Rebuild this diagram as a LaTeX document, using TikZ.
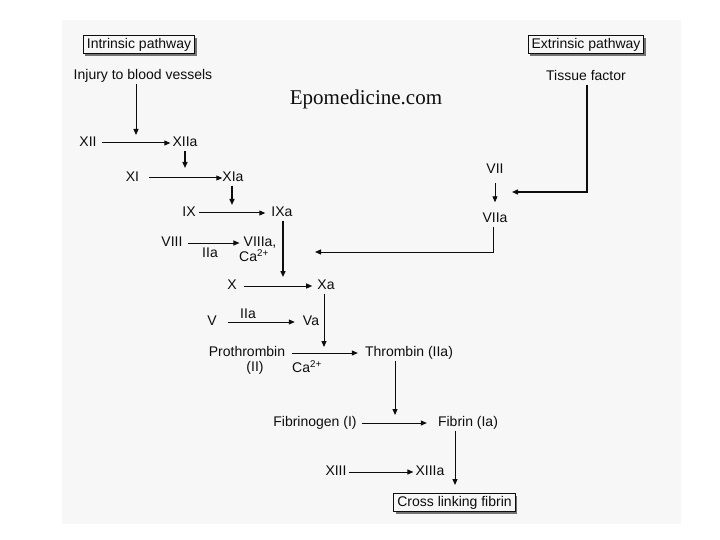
\documentclass[tikz,border=0pt]{standalone}
\usepackage{fontspec}
\setmainfont{Liberation Sans}
\newfontfamily\wmfont{Liberation Serif}
\usetikzlibrary{arrows.meta,shadows}
\definecolor{panel}{HTML}{F7F7F7}
\definecolor{ink}{HTML}{0D0D0D}
\tikzset{
  lbl/.style={font=\fontsize{14}{14}\selectfont, text=ink, text height=10pt, text depth=3pt, inner xsep=2pt, inner ysep=1pt},
  pbox/.style={lbl, draw=ink, line width=1pt, fill=panel, inner xsep=3.5pt, inner ysep=2.5pt,
    drop shadow={shadow xshift=2pt, shadow yshift=-2pt, fill=black!55, opacity=1}},
  arr/.style={draw=ink, line width=1pt, -{Triangle[length=6pt,width=5pt]}},
  varr/.style={arr, line width=1.4pt},
}
\begin{document}
\begin{tikzpicture}[x=1pt,y=-1pt]
\useasboundingbox (0,0) rectangle (720,540);
\fill[panel] (62,20) rectangle (681,524);

% boxes
\node[pbox] (intr) at (139,45) {Intrinsic pathway};
\node[pbox] (extr) at (586,45) {Extrinsic pathway};
\node[pbox] (cross) at (454.5,502.5) {Cross linking fibrin};

% watermark
\node[font=\wmfont\fontsize{21}{21}\selectfont, text=ink] (epo) at (366,99) {Epomedicine.com};

% labels
\node[lbl] (inj) at (143,76) {Injury to blood vessels};
\node[lbl] (tf) at (586,77) {Tissue factor};
\node[lbl] (xii) at (88,143) {XII};
\node[lbl] (xiia) at (185,143) {XIIa};
\node[lbl] (xi) at (132.5,178) {XI};
\node[lbl] (xia) at (233,178) {XIa};
\node[lbl] (ix) at (189,213) {IX};
\node[lbl] (ixa) at (282,213) {IXa};
\node[lbl] (viii) at (172,243) {VIII};
\node[lbl] (viiia) at (260,243) {VIIIa,};
\node[lbl] (iia1) at (210,254) {IIa};
\node[lbl] (ca1) at (254,258) {Ca\textsuperscript{2+}};
\node[lbl] (vii) at (495,170) {VII};
\node[lbl] (viia) at (495,219) {VIIa};
\node[lbl] (x) at (232,286) {X};
\node[lbl] (xa) at (326,286) {Xa};
\node[lbl] (v) at (212,322) {V};
\node[lbl] (va) at (311,322) {Va};
\node[lbl] (iia2) at (248,315) {IIa};
\node[lbl] (pro) at (247,353) {Prothrombin};
\node[lbl] (ii) at (255,368) {(II)};
\node[lbl] (ca2) at (307,369) {Ca\textsuperscript{2+}};
\node[lbl] (thr) at (409,353) {Thrombin (IIa)};
\node[lbl] (fgn) at (315,423) {Fibrinogen (I)};
\node[lbl] (fib) at (468,423) {Fibrin (Ia)};
\node[lbl] (xiii) at (336,472) {XIII};
\node[lbl] (xiiia) at (430,472) {XIIIa};

% junction coordinates
\coordinate (m1) at (136,135);
\coordinate (m2) at (185,168);
\coordinate (m3) at (232,205);
\coordinate (m4) at (283,277);
\coordinate (m5) at (324,347);
\coordinate (m6) at (395,415);
\coordinate (m7) at (455,485);
\coordinate (tfc) at (587,192);
\coordinate (tfend) at (512,192);
\coordinate (viiac) at (493,252);
\coordinate (viiaend) at (315,252);

% horizontal arrows
\draw[arr, shorten <=3pt] (xii.east) -- (xiia.west);
\draw[arr, shorten <=8pt, shorten >=-2pt] (xi.east) -- (xia.west);
\draw[arr, shorten <=1pt, shorten >=4pt] (ix.east) -- (ixa.west);
\draw[arr, shorten <=3pt, shorten >=2pt] (viii.east) -- (viiia.west);
\draw[arr, shorten <=5pt, shorten >=3pt] (x.east) -- (xa.west);
\draw[arr, shorten <=9pt, shorten >=6pt] (v.east) -- (va.west);
\draw[arr, shorten <=5pt, shorten >=5pt] (pro.east) -- (thr.west);
\draw[arr, shorten <=3pt, shorten >=9pt] (fgn.east) -- (fib.west);
\draw[arr] (xiii.east) -- (xiiia.west);
\draw[arr, line width=0.9pt, shorten <=5.5pt, shorten >=9pt] (vii) -- (viia);

% vertical arrows
\draw[arr] (inj.south -| m1) -- (m1);
\draw[varr] (xiia) -- (m2);
\draw[varr] (xia.south -| m3) -- (m3);
\draw[varr] (ixa.south -| m4) -- (m4);
\draw[arr] (xa.south -| m5) -- (m5);
\draw[arr] (thr.south -| m6) -- (m6);
\draw[arr] (fib.south -| m7) -- (m7);

% extrinsic connections
\draw[arr, line width=1.3pt] (tf.south -| tfc) -- (tfc) -- (tfend);
\draw[arr] (viia.south -| viiac) -- (viiac) -- (viiaend);
\end{tikzpicture}
\end{document}
